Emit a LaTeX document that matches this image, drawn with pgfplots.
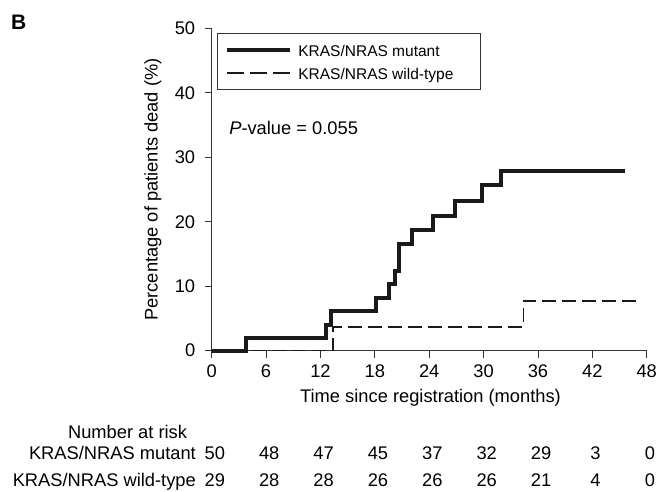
\documentclass[border=0pt]{standalone}
\usepackage{pgfplots}
\pgfplotsset{compat=1.18}
\usepackage{fontspec}
\setmainfont{Liberation Sans}
\definecolor{ink}{HTML}{1A1A1A}
\definecolor{axc}{HTML}{333333}
\newcommand{\mainsize}{\fontsize{18.3bp}{22bp}\selectfont}
\newcommand{\legsize}{\fontsize{15.5bp}{18bp}\selectfont}
\begin{document}
\begin{tikzpicture}
\path[use as bounding box] (0bp,0bp) rectangle (662bp,492bp);
\node[anchor=base west, font=\fontsize{21bp}{24bp}\selectfont\bfseries, inner sep=0pt] at (11bp,462bp) {B};
\begin{axis}[
  at={(211.7bp,141.3bp)}, anchor=south west,
  scale only axis, width=435bp, height=322.4bp,
  xmin=0, xmax=48, ymin=0, ymax=50,
  xtick={0,6,...,48}, ytick={0,10,...,50},
  axis x line*=bottom, axis y line*=left,
  axis line style={color=axc, line width=0.9bp},
  tick style={color=axc, line width=0.9bp},
  tick align=outside, major tick length=7bp,
  /pgf/number format/assume math mode=true,
  tick label style={font=\mainsize},
  xticklabel style={yshift=-4bp},
  yticklabel style={xshift=-6bp},
  xlabel={Time since registration (months)},
  ylabel={Percentage of patients dead (\%)},
  every axis x label/.style={at={(axis description cs:0.503,-0.1467)}, anchor=center, font=\mainsize},
  every axis y label/.style={at={(axis description cs:-0.135,0.5)}, anchor=center, rotate=90, font=\mainsize},
  clip=false,
  legend style={at={(axis description cs:0.012,0.985)}, anchor=north west,
    draw=axc, line width=0.9bp, font=\legsize,
    inner xsep=8bp, inner ysep=8.5bp, row sep=7bp, column sep=0bp,
    nodes={inner sep=0pt, text height=14bp, text depth=2bp}},
  legend cell align=left,
  legend image code/.code={\draw[#1] (0bp,0bp) -- (63bp,0bp);},
  /tikz/every odd column/.append style={column sep=6bp},
]
\addlegendimage{color=ink, line width=4bp}
\addlegendentry{KRAS/NRAS mutant}
\addlegendimage{color=ink, line width=1.4bp, dash pattern=on 17bp off 6bp}
\addlegendentry{KRAS/NRAS wild-type\rule{19bp}{0pt}}
\addplot[forget plot, const plot, color=ink, line width=4bp, line join=miter] coordinates {
  (0,0) (3.75,2) (12.6,4) (13.2,6.1) (18.1,8.2) (19.6,10.3) (20.2,12.4)
  (20.65,16.5) (22.05,18.7) (24.4,20.9) (26.8,23.2) (29.8,25.7) (31.9,27.9) (45.6,27.9)
};
\addplot[forget plot, const plot, color=ink, line width=1.4bp, dash pattern=on 14bp off 6bp] coordinates {
  (0,0) (13.4,3.7) (34.4,7.7) (46.8,7.7)
};
\node[anchor=base west, font=\mainsize, inner sep=0pt] at (axis cs:1.92,33.6) {\textit{P}-value = 0.055};
% number at risk table
\node[anchor=base east, font=\mainsize, inner sep=0pt] at (axis cs:-2.7,-13.62) {Number at risk};
\node[anchor=base east, font=\mainsize, inner sep=0pt] at (axis cs:-1.73,-16.95) {KRAS/NRAS mutant};
\node[anchor=base east, font=\mainsize, inner sep=0pt] at (axis cs:-1.73,-21.06) {KRAS/NRAS wild-type};
\node[anchor=base, font=\mainsize, inner sep=0pt] at (axis cs:0.35,-16.95) {50};
\node[anchor=base, font=\mainsize, inner sep=0pt] at (axis cs:6.35,-16.95) {48};
\node[anchor=base, font=\mainsize, inner sep=0pt] at (axis cs:12.35,-16.95) {47};
\node[anchor=base, font=\mainsize, inner sep=0pt] at (axis cs:18.35,-16.95) {45};
\node[anchor=base, font=\mainsize, inner sep=0pt] at (axis cs:24.35,-16.95) {37};
\node[anchor=base, font=\mainsize, inner sep=0pt] at (axis cs:30.35,-16.95) {32};
\node[anchor=base, font=\mainsize, inner sep=0pt] at (axis cs:36.35,-16.95) {29};
\node[anchor=base, font=\mainsize, inner sep=0pt] at (axis cs:42.35,-16.95) {3};
\node[anchor=base, font=\mainsize, inner sep=0pt] at (axis cs:48.35,-16.95) {0};
\node[anchor=base, font=\mainsize, inner sep=0pt] at (axis cs:0.35,-21.06) {29};
\node[anchor=base, font=\mainsize, inner sep=0pt] at (axis cs:6.35,-21.06) {28};
\node[anchor=base, font=\mainsize, inner sep=0pt] at (axis cs:12.35,-21.06) {28};
\node[anchor=base, font=\mainsize, inner sep=0pt] at (axis cs:18.35,-21.06) {26};
\node[anchor=base, font=\mainsize, inner sep=0pt] at (axis cs:24.35,-21.06) {26};
\node[anchor=base, font=\mainsize, inner sep=0pt] at (axis cs:30.35,-21.06) {26};
\node[anchor=base, font=\mainsize, inner sep=0pt] at (axis cs:36.35,-21.06) {21};
\node[anchor=base, font=\mainsize, inner sep=0pt] at (axis cs:42.35,-21.06) {4};
\node[anchor=base, font=\mainsize, inner sep=0pt] at (axis cs:48.35,-21.06) {0};
\end{axis}
\end{tikzpicture}
\end{document}
